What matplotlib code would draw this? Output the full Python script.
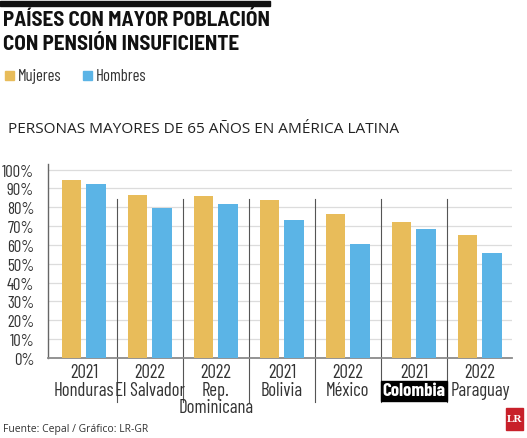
import numpy as np
import matplotlib
matplotlib.use("Agg")
import matplotlib.pyplot as plt
from matplotlib import font_manager
from matplotlib.patches import Rectangle
import matplotlib.transforms as mtransforms

years = ["2021", "2022", "2022", "2021", "2022", "2021", "2022"]
countries = ["Honduras", "El Salvador", "Rep.\nDominicana", "Bolivia", "México", "Colombia", "Paraguay"]
mujeres = [94.3, 86.4, 85.9, 83.8, 76.6, 72.3, 65.4]
hombres = [92.2, 79.7, 81.9, 73.5, 60.3, 68.3, 55.6]
highlight = "Colombia"

gold = "#E8BC5A"
blue = "#5BB4E6"

names = {f.name for f in font_manager.fontManager.ttflist}
narrow = next((n for n in ["Barlow Condensed", "Archivo Narrow", "Asap Condensed"] if n in names), "DejaVu Sans")
semi = next((n for n in ["Barlow Semi Condensed", "Open Sans"] if n in names), "DejaVu Sans")
plt.rcParams["font.family"] = [narrow, "DejaVu Sans"]

fig = plt.figure(figsize=(5.27, 4.39), dpi=100)
W, H = 527, 439
ax = fig.add_axes([48 / W, 1 - 359 / H, (512 - 48) / W, (359 - 165) / H])

x = np.arange(len(countries))
off = 0.188
bw = 0.30
ax.bar(x - off, mujeres, bw, color=gold, zorder=3)
ax.bar(x + off, hombres, bw, color=blue, zorder=3)

ax.set_xlim(-0.545, 6.485)
ax.set_ylim(0, 103)
ax.set_yticks(np.arange(0, 101, 10))
ax.set_yticklabels([f"{v}%" for v in range(0, 101, 10)], fontsize=12, color="#333333")
ax.tick_params(axis="y", length=0, pad=10)
ax.set_xticks([])
for v in range(10, 101, 10):
    ax.axhline(v, color="#dcdcdc", lw=0.9, zorder=1)
for s in ["top", "right"]:
    ax.spines[s].set_visible(False)
ax.spines["left"].set_color("#666666")
ax.spines["left"].set_linewidth(1.0)
ax.spines["bottom"].set_color("#8a8a8a")
ax.spines["bottom"].set_linewidth(1.3)

trans = mtransforms.blended_transform_factory(ax.transData, ax.transAxes)
for i in range(len(countries) - 1):
    ax.plot([i + 0.5, i + 0.5], [0.82, -0.227], transform=trans, color="#555555",
            lw=0.8, clip_on=False, zorder=2)

fs = 13.5
for i, (yr, c) in enumerate(zip(years, countries)):
    ax.text(i, -0.072, yr, transform=trans, ha="center", va="center", fontsize=fs, color="#333333")
    if c == highlight:
        ax.add_patch(Rectangle((i - 0.5, -0.222), 1.0, 0.104, transform=trans,
                               color="black", clip_on=False, zorder=4))
        ax.text(i, -0.168, c, transform=trans, ha="center", va="center", fontsize=fs,
                fontweight="bold", color="white", zorder=5)
    elif "\n" in c:
        a, b = c.split("\n")
        ax.text(i, -0.165, a, transform=trans, ha="center", va="center", fontsize=fs, color="#333333")
        ax.text(i, -0.252, b, transform=trans, ha="center", va="center", fontsize=fs, color="#333333")
    else:
        ax.text(i, -0.165, c, transform=trans, ha="center", va="center", fontsize=fs, color="#333333")

# header
fig.patches.append(Rectangle((0, 1 - 7 / H), 270 / W, 5 / H, transform=fig.transFigure,
                             color="#111111"))
fig.text(3 / W, 1 - 21 / H, "PAÍSES CON MAYOR POBLACIÓN", fontsize=15.2, fontweight="bold",
         family=[semi, "DejaVu Sans"], color="#111111", va="center")
fig.text(3 / W, 1 - 44 / H, "CON PENSIÓN INSUFICIENTE", fontsize=15.2, fontweight="bold",
         family=[semi, "DejaVu Sans"], color="#111111", va="center")

# legend
fig.patches.append(Rectangle((5 / W, 1 - 81 / H), 9 / W, 9 / H, transform=fig.transFigure, color=gold))
fig.text(18 / W, 1 - 77 / H, "Mujeres", fontsize=12, color="#333333", va="center")
fig.patches.append(Rectangle((83 / W, 1 - 81 / H), 9 / W, 9 / H, transform=fig.transFigure, color=blue))
fig.text(96 / W, 1 - 77 / H, "Hombres", fontsize=12, color="#333333", va="center")

fig.text(8 / W, 1 - 130 / H, "PERSONAS MAYORES DE 65 AÑOS EN AMÉRICA LATINA", fontsize=11.1,
         family=["Open Sans", "DejaVu Sans"], color="#222222", va="center")

fig.text(3 / W, 1 - 430 / H, "Fuente: Cepal / Gráfico: LR-GR", fontsize=7.5,
         family=["Open Sans", "DejaVu Sans"], color="#333333", va="center")

# LR logo
fig.patches.append(Rectangle((506 / W, 1 - 431 / H), 17 / W, 22 / H, transform=fig.transFigure,
                             color="#C8202A"))
fig.text(514.5 / W, 1 - 420 / H, "LR", fontsize=8, fontweight="bold", family=["Liberation Serif", "DejaVu Serif"],
         color="white", ha="center", va="center")

fig.savefig("out.png", dpi=100)
